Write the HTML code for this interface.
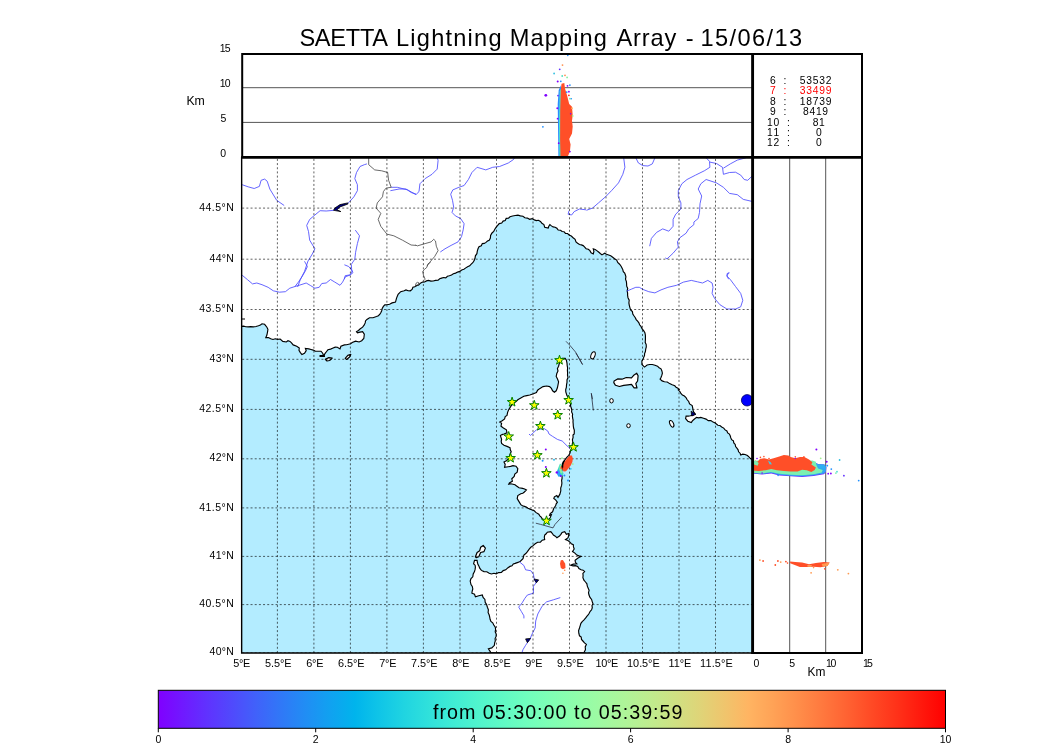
<!DOCTYPE html>
<html><head><meta charset="utf-8"><title>SAETTA Lightning Mapping Array</title>
<style>html,body{margin:0;padding:0;background:#fff;}svg{display:block;will-change:transform;}text{font-family:"Liberation Sans",sans-serif;}</style></head><body>
<svg width="1050" height="750" viewBox="0 0 1050 750">
<defs><clipPath id="mc"><rect x="241.2" y="157.4" width="511.4" height="495.5"/></clipPath>
<clipPath id="tc"><rect x="241" y="53" width="512" height="105"/></clipPath>
<clipPath id="rc"><rect x="752" y="157" width="111" height="497"/></clipPath>
<linearGradient id="rb" x1="0" x2="1" y1="0" y2="0"><stop offset="0.000" stop-color="#8000ff"/><stop offset="0.031" stop-color="#7019ff"/><stop offset="0.062" stop-color="#6032fe"/><stop offset="0.094" stop-color="#504afc"/><stop offset="0.125" stop-color="#4062fa"/><stop offset="0.156" stop-color="#3078f7"/><stop offset="0.188" stop-color="#208ef4"/><stop offset="0.219" stop-color="#10a2f0"/><stop offset="0.250" stop-color="#00b4ec"/><stop offset="0.281" stop-color="#10c5e7"/><stop offset="0.312" stop-color="#20d4e1"/><stop offset="0.344" stop-color="#30e1db"/><stop offset="0.375" stop-color="#40ecd4"/><stop offset="0.406" stop-color="#50f4cd"/><stop offset="0.438" stop-color="#60fac5"/><stop offset="0.469" stop-color="#70febd"/><stop offset="0.500" stop-color="#80ffb4"/><stop offset="0.531" stop-color="#8ffeab"/><stop offset="0.562" stop-color="#9ffaa2"/><stop offset="0.594" stop-color="#aff498"/><stop offset="0.625" stop-color="#bfec8e"/><stop offset="0.656" stop-color="#cfe183"/><stop offset="0.688" stop-color="#dfd478"/><stop offset="0.719" stop-color="#efc56d"/><stop offset="0.750" stop-color="#ffb462"/><stop offset="0.781" stop-color="#ffa256"/><stop offset="0.812" stop-color="#ff8e4a"/><stop offset="0.844" stop-color="#ff783e"/><stop offset="0.875" stop-color="#ff6232"/><stop offset="0.906" stop-color="#ff4a25"/><stop offset="0.938" stop-color="#ff3219"/><stop offset="0.969" stop-color="#ff190d"/><stop offset="1.000" stop-color="#ff0000"/></linearGradient></defs>
<rect width="1050" height="750" fill="#fff"/>
<g clip-path="url(#mc)">
<rect x="241.2" y="157.4" width="511.4" height="495.5" fill="#b3ecff"/>
<g fill="#fff" stroke="#000" stroke-width="1.15" stroke-linejoin="miter">
<path d="M241.2 326.4 L243.5 326.1 L245.8 326.8 L248.1 326.9 L250.7 326.7 L253.3 326.9 L256.0 326.5 L258.5 325.8 L260.4 325.0 L262.0 323.8 L264.6 324.3 L266.9 327.2 L267.9 329.3 L267.6 331.6 L266.9 335.0 L265.8 337.6 L268.4 337.5 L270.7 338.8 L273.0 339.5 L275.3 338.8 L277.6 339.4 L280.2 339.0 L282.8 341.4 L286.3 342.0 L288.0 340.7 L290.0 341.4 L291.5 342.8 L293.2 344.9 L296.7 346.3 L299.3 348.0 L299.0 350.3 L300.2 352.4 L301.9 354.6 L304.5 353.2 L306.2 350.6 L305.4 348.4 L308.8 348.9 L311.0 349.5 L313.2 350.1 L315.2 351.1 L317.5 351.2 L321.0 351.2 L322.7 353.2 L323.6 355.8 L325.3 353.2 L326.6 351.5 L327.9 349.8 L330.6 349.1 L333.1 348.0 L335.2 347.1 L337.4 347.2 L340.0 348.9 L340.9 346.3 L344.4 344.9 L346.6 344.8 L348.7 344.2 L350.7 343.8 L352.2 342.5 L355.6 341.1 L359.1 342.0 L361.7 340.7 L363.8 338.5 L364.1 336.3 L364.3 334.2 L362.6 331.6 L360.0 332.1 L357.4 332.8 L356.5 331.6 L358.5 330.5 L360.0 329.0 L362.6 327.2 L364.1 325.2 L365.2 322.9 L365.5 320.9 L366.9 319.4 L369.5 317.7 L373.0 317.7 L376.5 316.5 L378.4 315.7 L379.9 314.2 L380.9 312.5 L381.7 310.7 L382.2 308.5 L383.4 306.4 L384.8 304.9 L386.9 304.7 L389.6 304.3 L392.1 302.9 L395.5 302.1 L396.4 298.6 L397.2 296.4 L398.1 294.3 L400.7 291.7 L404.2 290.8 L406.0 289.9 L408.1 290.7 L410.3 290.8 L412.1 289.4 L412.9 287.3 L414.8 286.8 L416.4 285.6 L418.7 285.0 L420.4 283.2 L422.5 282.1 L424.6 282.0 L426.5 280.9 L428.5 280.4 L430.9 281.1 L433.2 281.0 L435.5 280.4 L438.1 280.1 L439.7 278.8 L441.6 278.1 L443.6 277.5 L445.8 277.8 L447.4 276.3 L449.4 275.7 L451.5 275.0 L453.4 273.7 L455.6 273.1 L457.6 272.1 L459.8 271.4 L461.7 270.0 L463.9 269.2 L465.8 267.9 L467.6 266.7 L469.7 265.8 L471.2 264.2 L472.8 262.7 L474.2 260.6 L475.0 258.3 L475.4 255.8 L476.9 253.7 L477.3 251.2 L478.0 248.8 L479.0 246.8 L481.3 245.7 L482.3 243.6 L484.3 243.4 L486.0 242.4 L487.5 241.1 L489.2 240.2 L490.4 238.0 L490.6 235.4 L491.8 233.2 L493.7 231.5 L494.8 229.3 L496.2 227.2 L497.7 225.4 L499.2 223.6 L501.7 223.0 L503.1 221.1 L505.2 220.6 L506.2 218.4 L508.5 218.2 L510.0 216.8 L512.6 216.0 L515.2 215.5 L517.9 215.2 L520.4 215.9 L522.9 216.3 L524.9 217.8 L527.4 218.1 L529.6 219.3 L532.2 218.6 L534.3 219.9 L536.3 220.6 L538.5 220.3 L540.4 221.4 L541.9 223.2 L543.9 224.6 L544.7 227.2 L548.2 228.0 L548.8 226.2 L549.9 224.6 L551.4 225.9 L553.1 226.9 L555.1 227.2 L556.9 228.3 L558.2 230.0 L560.5 230.2 L562.1 231.5 L564.1 231.8 L565.5 233.4 L567.6 233.5 L569.0 235.0 L571.3 236.0 L573.1 237.7 L575.1 239.3 L576.0 241.9 L577.6 243.3 L579.5 244.5 L581.4 244.9 L583.2 245.6 L584.7 247.1 L586.1 248.7 L588.3 249.2 L589.9 250.6 L591.1 252.8 L593.3 254.0 L593.9 251.4 L593.3 248.8 L595.2 249.5 L596.8 250.6 L598.6 252.0 L600.3 253.5 L602.0 254.9 L604.6 253.2 L606.5 254.2 L608.6 255.0 L610.7 255.8 L612.7 257.3 L614.6 258.8 L616.7 260.1 L617.7 262.5 L619.6 264.2 L621.1 266.2 L622.0 267.9 L622.8 269.6 L623.3 271.6 L624.7 273.1 L625.4 275.0 L625.9 276.9 L625.5 279.3 L626.4 281.6 L626.6 283.9 L626.7 286.2 L627.7 288.4 L627.2 290.8 L627.6 293.1 L627.6 295.4 L628.0 297.7 L629.2 300.2 L628.9 302.9 L629.3 305.3 L629.9 307.6 L630.6 309.9 L632.4 311.6 L632.8 314.0 L634.1 316.0 L635.3 317.7 L636.2 319.6 L637.6 321.2 L638.9 322.8 L639.6 324.8 L641.0 326.4 L642.0 328.7 L643.6 330.7 L644.9 332.8 L645.4 335.2 L645.4 337.6 L645.4 340.0 L645.2 342.3 L646.2 344.6 L646.3 346.9 L645.7 349.2 L645.4 351.5 L644.6 353.5 L644.5 355.6 L643.6 357.6 L642.9 359.4 L641.9 361.0 L641.9 364.5 L644.5 367.1 L647.1 365.0 L649.7 364.5 L652.3 364.5 L655.0 365.2 L657.5 366.2 L659.1 367.7 L661.0 368.8 L661.9 370.9 L662.4 373.2 L661.8 375.4 L661.0 377.5 L660.1 379.2 L662.1 380.9 L664.4 381.8 L667.3 382.0 L669.6 383.6 L672.2 384.8 L674.8 385.8 L676.1 387.4 L677.9 388.2 L679.2 389.6 L678.3 390.0 L679.9 391.5 L680.9 393.5 L682.4 395.1 L684.4 396.1 L686.0 397.6 L687.0 399.5 L688.7 401.5 L689.6 403.9 L692.2 405.6 L692.7 407.8 L693.0 409.9 L693.6 411.8 L694.8 413.4 L692.9 415.1 L690.4 415.7 L688.3 416.1 L686.1 416.0 L685.6 418.6 L687.8 421.2 L691.3 422.6 L692.4 420.9 L693.9 419.5 L696.5 417.4 L698.7 417.9 L700.8 417.4 L703.5 418.2 L706.1 419.1 L708.2 420.6 L710.9 420.6 L713.0 422.1 L714.8 422.7 L716.4 424.0 L717.9 425.2 L719.9 425.5 L721.7 426.9 L723.7 428.1 L725.1 429.9 L726.9 431.0 L727.7 432.9 L729.4 434.1 L730.3 436.0 L730.8 437.9 L731.6 439.6 L733.4 440.9 L733.8 442.9 L735.2 444.4 L735.6 446.6 L736.9 448.2 L738.1 449.8 L738.6 451.8 L740.1 453.2 L740.7 455.0 L742.8 454.2 L745.1 454.5 L747.4 455.6 L749.4 457.3 L750.7 458.8 L752.6 459.7 L752.6 157.4 L241.2 157.4Z"/>
<path d="M565.2 358.4 L566.4 360.2 L567.0 363.2 L567.2 365.6 L567.6 368.0 L567.4 370.4 L567.6 372.8 L567.5 375.2 L568.0 377.6 L567.0 379.9 L567.0 382.4 L566.5 384.8 L566.4 387.2 L565.7 389.5 L565.8 392.0 L567.0 395.6 L568.3 397.2 L568.8 399.2 L569.7 401.6 L570.6 404.0 L570.6 406.1 L571.3 408.0 L571.8 410.0 L571.6 412.0 L572.6 414.0 L572.4 416.0 L572.6 418.0 L573.1 420.0 L573.0 422.0 L573.2 424.0 L573.3 426.0 L573.6 428.0 L574.3 430.0 L574.3 432.0 L574.2 434.0 L573.0 435.0 L573.1 437.4 L572.4 439.8 L572.8 442.2 L572.2 444.2 L572.5 446.3 L571.8 448.2 L570.6 450.5 L570.0 453.0 L568.8 455.3 L567.0 457.2 L565.4 459.2 L564.0 461.4 L563.6 463.9 L562.4 466.2 L562.5 468.7 L561.6 471.0 L561.4 473.4 L562.0 475.8 L562.1 478.2 L561.6 480.6 L561.9 483.0 L561.6 485.4 L560.7 488.0 L560.8 490.8 L559.8 494.4 L558.0 497.4 L556.8 495.6 L554.4 496.8 L553.8 498.6 L555.6 499.8 L557.4 502.2 L556.2 503.8 L555.6 505.8 L553.8 508.2 L552.6 511.8 L550.2 513.6 L549.6 515.4 L551.4 514.8 L550.2 517.8 L548.4 519.6 L546.6 520.8 L544.2 520.0 L542.4 519.0 L541.2 517.2 L539.8 515.8 L538.8 514.2 L535.8 512.4 L534.3 510.8 L532.2 510.0 L530.1 509.1 L528.0 508.2 L526.3 507.1 L524.4 506.4 L522.5 505.8 L520.8 504.6 L519.0 501.6 L517.2 498.6 L517.8 495.6 L520.8 493.8 L522.8 493.3 L524.4 492.0 L526.4 490.0 L524.6 489.0 L522.6 488.4 L519.0 487.8 L516.6 486.0 L515.0 484.7 L513.0 484.2 L510.9 483.8 L508.8 484.2 L509.4 483.0 L512.4 481.2 L511.8 478.8 L514.2 476.4 L514.8 474.0 L517.2 472.2 L517.8 468.6 L516.0 466.2 L513.0 465.6 L510.6 466.4 L508.2 466.8 L504.6 467.4 L505.2 464.4 L504.0 462.0 L506.4 460.8 L508.8 458.4 L509.5 456.2 L510.1 453.9 L511.2 451.8 L510.3 449.8 L510.0 447.6 L507.0 446.4 L504.0 445.2 L501.6 443.4 L501.2 441.3 L501.6 439.2 L500.4 435.6 L502.1 434.6 L504.0 434.0 L507.0 432.8 L506.4 429.8 L503.4 428.0 L501.0 426.2 L501.6 423.2 L499.8 422.0 L502.2 420.8 L504.6 419.0 L505.2 416.6 L507.0 415.4 L507.6 412.4 L508.8 409.4 L510.0 407.6 L511.2 405.8 L513.6 403.4 L516.0 401.6 L517.8 399.8 L520.8 398.0 L523.8 396.2 L526.8 395.6 L529.8 395.0 L533.4 393.8 L536.4 392.6 L537.6 390.2 L540.0 388.4 L543.0 386.6 L546.6 386.0 L549.6 386.6 L551.4 388.4 L552.6 390.8 L554.4 392.2 L556.2 390.8 L557.4 387.8 L558.0 384.8 L558.6 381.8 L557.4 378.8 L556.2 376.4 L556.8 373.4 L558.0 371.0 L557.4 368.6 L558.6 366.2 L559.2 363.8 L560.4 360.8 L562.2 358.4 L565.2 358.4Z"/>
<path d="M491.0 652.9 L490.1 651.4 L488.4 648.8 L491.8 647.9 L494.4 645.3 L494.6 643.1 L495.3 641.0 L495.1 638.6 L496.1 636.4 L496.2 634.0 L495.2 631.8 L495.6 629.4 L495.3 627.1 L493.8 625.0 L492.7 622.8 L490.9 621.4 L490.1 619.3 L489.7 617.1 L489.2 615.0 L488.1 612.5 L488.4 609.8 L487.4 607.2 L486.6 604.6 L485.2 602.2 L484.9 599.4 L483.1 597.5 L482.3 595.0 L478.8 595.8 L475.4 596.7 L474.5 594.1 L471.9 593.2 L472.2 591.0 L472.8 588.9 L472.3 586.5 L471.0 584.6 L470.2 581.1 L471.0 578.6 L472.8 576.8 L473.2 574.0 L474.5 571.6 L475.1 569.4 L475.4 567.2 L475.1 565.2 L473.6 563.8 L474.5 560.3 L477.1 560.3 L477.4 562.5 L478.0 564.6 L479.0 566.3 L479.7 568.1 L481.4 570.4 L484.0 571.6 L486.8 571.8 L489.2 573.3 L491.5 574.0 L493.9 573.3 L496.2 573.8 L498.6 572.6 L501.4 572.4 L503.2 570.6 L505.7 569.8 L507.7 567.9 L510.0 566.4 L512.0 565.8 L513.3 564.0 L515.2 563.4 L517.9 562.4 L520.4 561.2 L523.0 558.6 L523.9 555.1 L525.8 553.5 L527.4 551.6 L529.0 549.3 L530.8 547.3 L533.1 545.6 L535.2 543.8 L537.6 542.3 L540.4 542.1 L542.2 540.2 L544.7 539.5 L544.3 537.3 L544.7 535.1 L546.2 533.8 L547.3 532.2 L550.8 531.7 L552.2 533.3 L553.4 535.1 L555.3 536.2 L556.9 537.7 L559.5 536.0 L560.9 534.4 L562.1 532.5 L564.7 531.7 L566.4 534.3 L569.0 533.4 L568.6 535.6 L568.1 537.7 L565.5 539.5 L567.9 540.5 L569.9 542.1 L571.3 543.7 L573.3 544.7 L573.5 546.9 L574.2 549.0 L572.5 551.6 L574.9 553.1 L576.8 555.1 L578.9 555.9 L581.1 556.5 L579.4 557.3 L577.7 558.2 L575.1 560.3 L575.4 562.3 L576.8 563.8 L573.3 564.1 L570.7 565.1 L573.0 565.9 L575.4 565.6 L577.7 566.4 L578.9 568.6 L581.1 569.8 L583.1 570.2 L584.6 571.6 L582.9 573.4 L583.1 575.5 L582.9 577.7 L583.9 580.1 L585.5 582.0 L586.9 583.8 L587.3 586.1 L588.1 588.1 L589.1 590.3 L588.5 592.7 L589.0 595.0 L590.0 597.4 L591.6 599.4 L592.2 601.6 L593.0 603.7 L592.0 605.6 L592.3 607.8 L591.6 609.8 L590.2 611.3 L589.2 613.2 L588.1 615.0 L586.6 616.6 L585.3 618.5 L583.8 620.2 L582.2 621.6 L580.9 623.3 L580.3 625.4 L579.5 628.0 L578.6 630.6 L578.8 633.2 L579.5 635.8 L581.2 637.1 L581.5 639.4 L582.9 641.0 L584.5 642.9 L586.4 644.4 L585.2 646.9 L585.5 649.6 L583.8 652.9Z"/>
</g>
<path d="M614.1 381.0 L617.6 378.9 L622.0 379.2 L626.3 377.5 L631.5 377.9 L634.1 374.9 L636.7 373.2 L638.1 375.8 L637.6 381.0 L635.8 383.6 L637.0 387.9 L634.1 387.9 L631.5 384.4 L628.0 384.8 L623.7 385.3 L619.4 386.5 L615.5 385.3 L613.8 382.7Z" fill="#fff" stroke="#000" stroke-width="1.2" stroke-linejoin="round"/>
<path d="M475.4 556.8 L477.1 552.5 L479.7 550.7 L480.6 547.3 L483.2 545.5 L485.4 548.1 L484.0 551.6 L480.6 552.5 L478.8 556.8 L476.2 557.7Z" fill="#fff" stroke="#000" stroke-width="1.2" stroke-linejoin="round"/>
<path d="M325.3 359.3 L328.8 357.6 L332.2 358.1 L329.6 360.5 L327.0 361.0Z" fill="#fff" stroke="#000" stroke-width="1.2" stroke-linejoin="round"/>
<path d="M345.2 358.4 L347.8 355.3 L350.8 354.4 L349.6 357.0 L346.6 359.5Z" fill="#fff" stroke="#000" stroke-width="1.2" stroke-linejoin="round"/>
<path d="M320.1 355.5 L324.4 355.5 L324.4 356.4 L320.1 356.4Z" fill="#fff" stroke="#000" stroke-width="1.2" stroke-linejoin="round"/>
<ellipse cx="593.0" cy="355.3" rx="2.0" ry="3.7" transform="rotate(20 593.0 355.3)" fill="#fff" stroke="#000" stroke-width="1"/>
<ellipse cx="611.5" cy="400.8" rx="1.8" ry="2.2" transform="rotate(0 611.5 400.8)" fill="#fff" stroke="#000" stroke-width="1"/>
<ellipse cx="628.5" cy="425.7" rx="1.8" ry="2.0" transform="rotate(0 628.5 425.7)" fill="#fff" stroke="#000" stroke-width="1"/>
<ellipse cx="671.7" cy="423.8" rx="1.8" ry="3.6" transform="rotate(-25 671.7 423.8)" fill="#fff" stroke="#000" stroke-width="1"/>
<path d="M241 319 L245 319" stroke="#000" stroke-width="1.2"/>
<g fill="none" stroke="#4a4aff" stroke-width="0.85" stroke-linejoin="round">
<path d="M242.1 184.7 L248.1 186.8 L254.2 188.5 L259.4 186.4 L261.1 180.3 L264.6 179.1 L267.2 181.2 L269.8 189.0 L276.7 200.3 L284.2 205.5"/>
<path d="M366.9 163.9 L364.3 164.7 L360.0 166.5 L356.5 172.5 L354.8 178.6 L357.4 184.7 L357.4 190.7 L353.9 196.8 L349.6 201.7 L347.8 203.4"/>
<path d="M334.0 210.3 L326.2 211.0 L320.1 210.7 L314.9 215.0 L309.7 219.4 L306.7 225.4 L308.5 231.5 L309.7 240.2 L314.9 248.8 L312.3 254.0 L308.0 261.0 L304.5 271.4 L300.5 279.2 L297.6 287.0"/>
<path d="M355.3 230.1 L359.5 235.8 L357.4 243.6 L355.6 252.3 L354.8 259.2 L351.3 264.4 L351.8 271.4 L350.4 274.8 L345.2 275.7 L344.4 279.2"/>
<path d="M391.2 187.3 L397.3 187.3 L407.7 189.9 L416.0 194.7"/>
<path d="M390.4 190.7 L399.1 189.0 L406.0 189.0 L411.2 192.5 L416.4 194.2 L419.0 191.6 L419.9 183.8 L425.1 178.6 L432.0 174.3 L437.2 169.1 L438.1 160.4 L437.2 157.8"/>
<path d="M514.4 157.8 L513.5 159.5 L508.3 163.0 L499.6 166.5 L492.7 167.3 L485.8 169.9 L477.1 167.3 L471.9 172.5 L468.4 179.5 L464.1 185.5 L458.9 187.3 L452.8 189.9 L450.7 194.2 L452.5 200.3 L453.7 207.2 L452.0 212.4 L455.4 215.9 L460.6 218.5 L464.1 223.7 L463.2 229.8 L461.5 236.7 L458.0 241.9 L451.1 245.4 L445.0 248.8 L440.3 252.0"/>
<path d="M586.0 209.8 L579.4 209.0 L574.2 211.6 L571.6 215.0 L568.1 214.2 L569.0 210.7"/>
<path d="M586.4 210.3 L592.5 208.1 L598.5 202.9 L605.5 196.8 L611.5 190.7 L618.5 182.9 L622.8 174.3 L624.9 167.3 L623.7 157.8"/>
<path d="M635.8 157.8 L638.4 163.0 L642.8 165.6 L648.0 166.0 L652.3 163.9 L654.9 157.8"/>
<path d="M706.1 157.8 L709.5 161.3 L709.9 167.3 L704.3 170.8 L695.6 175.1 L687.0 179.5 L681.8 183.8 L678.3 190.7 L678.3 196.8 L680.9 202.9 L680.9 209.0 L675.7 214.2 L673.1 219.4 L673.1 226.3 L668.8 231.2 L662.7 228.9 L656.6 232.4 L651.4 238.4 L649.7 246.2"/>
<path d="M752.5 201.5 L743.3 199.4 L737.3 194.7 L729.5 193.4 L723.4 187.3 L716.5 182.9 L706.1 179.5 L700.8 183.8 L698.2 189.0 L701.7 196.0 L700.0 203.8 L699.5 212.4 L698.2 218.5 L693.9 222.0 L693.9 224.6 L688.7 228.9 L686.1 233.2 L680.0 237.6 L677.4 241.9 L678.3 247.1 L673.1 253.2 L667.0 258.9 L665.3 257.9"/>
<path d="M709.9 162.1 L716.5 163.5 L722.5 167.3 L723.4 174.3 L729.5 172.5 L735.5 172.2 L740.7 175.1 L744.2 179.5 L747.7 180.3 L752.5 175.7"/>
<path d="M723.4 168.2 L730.3 163.9 L737.3 160.1 L745.9 157.8"/>
<path d="M728.6 279.2 L726.9 275.7 L727.2 273.5 L729.5 272.8"/>
<path d="M242.1 275.2 L247.3 279.5 L252.5 283.9 L256.8 283.0 L262.0 284.7 L268.1 287.3 L273.3 290.8 L279.4 292.2 L285.4 291.7 L289.8 288.2 L295.0 286.5 L298.4 282.1 L301.9 276.9 L305.4 270.9 L307.4 266.5 L304.5 261.3"/>
<path d="M295.0 286.5 L301.0 284.7 L306.2 283.0 L310.6 285.6 L314.9 288.2 L319.2 287.3 L321.8 283.5 L326.2 283.0 L330.5 279.5 L334.8 282.1 L340.0 285.3 L342.6 282.1 L345.2 276.9 L350.4 274.9 L353.0 272.6 L351.8 270.0 L348.7 266.5 L344.4 264.8"/>
<path d="M626.6 291.2 L631.5 289.1 L635.8 287.3 L639.3 287.3 L642.8 289.4 L648.8 291.7 L654.9 292.9 L661.0 289.9 L667.9 287.3 L676.6 285.3 L683.5 282.1 L691.3 280.4 L697.4 281.8 L702.6 283.0 L707.8 280.4 L712.1 283.0 L713.0 287.3 L712.1 293.4 L714.7 298.6 L719.9 304.7 L726.9 309.0 L735.5 309.0 L740.7 306.8 L742.8 300.3 L740.7 293.4 L735.5 286.5 L730.3 279.5 L726.9 276.1 L728.6 272.6"/>
<path d="M529.0 434.0 L530.4 435.4 L533.4 432.8 L536.4 429.8 L540.0 429.2 L544.2 428.6 L547.8 431.0 L549.0 434.0 L552.6 436.4 L557.4 439.4 L562.2 441.0 L567.0 445.8 L570.0 448.4"/>
<path d="M519.6 562.0 L523.9 565.5 L525.6 569.8 L530.8 570.7 L533.4 574.2 L534.3 579.4 L536.1 582.8 L533.4 586.3 L533.4 593.2 L527.4 595.0 L524.8 598.4 L522.2 602.8 L518.7 607.1 L521.3 611.4 L523.9 615.8 L523.9 618.4"/>
<path d="M560.3 597.6 L553.4 599.8 L546.5 601.9 L542.1 606.2 L537.8 614.0 L535.7 621.0 L535.2 627.9 L531.7 634.8 L530.0 639.2"/>
<path d="M530.0 639.2 L527.4 642.7 L525.6 645.3 L523.0 649.6 L521.8 653.1"/>
</g>
<g fill="none" stroke="#444" stroke-width="0.8" stroke-linejoin="round">
<path d="M368.7 157.8 L368.7 164.7 L374.7 169.9 L381.7 170.8 L387.7 172.5 L388.6 180.3 L391.2 187.3 L386.0 188.1 L383.4 191.6 L382.5 196.8 L377.3 202.9 L376.1 208.1 L380.8 213.3 L378.2 219.4 L380.8 226.3 L386.9 234.1 L393.8 235.8 L402.5 240.2 L411.1 245.0 L416.0 245.4"/>
<path d="M415.5 245.0 L417.3 245.9 L425.1 243.6 L431.1 241.9 L433.7 239.3 L435.5 241.0 L436.3 246.2 L438.1 250.6 L434.6 256.6 L429.4 262.7 L426.8 266.2"/>
<path d="M430.6 262.3 L428.0 263.9 L426.9 267.3 L424.3 269.5 L422.7 271.6 L423.5 275.3 L425.1 279.1 L424.3 280.4"/>
<path d="M415.5 285.5 L416.0 283.3 L417.6 282.3 L418.9 282.8 L417.9 284.9 L416.3 286.0 L415.5 285.5"/>
</g>
<g fill="none" stroke="#223" stroke-width="0.75">
<path d="M566.0 341.3 L570.0 345.5 L575.5 352.0 L579.2 358.5 L582.5 364.6"/>
<path d="M576.0 353.2 L579.5 359.3 L582.6 364.5"/>
<path d="M591.3 393.5 L592.5 399.2"/>
<path d="M591.3 393.1 L593.3 410.5"/>
<path d="M535.8 523.2 L540.6 524.4 L553.0 527.9 L555.0 524.4 L561.6 517.2"/>
</g>
<path d="M347.8 202.9 L340.0 204.6 L334.8 208.1 L333.6 210.3 L340.9 211.6 L336.9 209.8 L340.0 206.9 L347.8 204.1Z" fill="#000080" stroke="#000" stroke-width="0.8"/>
<path d="M534.0 579.0 L538.7 579.9 L536.4 582.8Z" fill="#000080" stroke="#000" stroke-width="0.8"/>
<path d="M525.6 638.9 L530.5 638.4 L527.4 642.7Z" fill="#000080" stroke="#000" stroke-width="0.8"/>
<path d="M691.1 411.2 L696.0 414.3 L691.8 416.0Z" fill="#000080" stroke="#000" stroke-width="0.8"/>
<circle cx="747.1" cy="400.3" r="5.7" fill="#0000ff" stroke="#000060" stroke-width="0.8"/>
<g stroke="#000" stroke-opacity="0.62" stroke-width="1" stroke-dasharray="2 2.17" fill="none">
<path d="M277.4 158.9 V652.9"/>
<path d="M313.9 158.9 V652.9"/>
<path d="M350.4 158.9 V652.9"/>
<path d="M386.9 158.9 V652.9"/>
<path d="M423.4 158.9 V652.9"/>
<path d="M460.0 158.9 V652.9"/>
<path d="M496.5 158.9 V652.9"/>
<path d="M533.0 158.9 V652.9"/>
<path d="M569.5 158.9 V652.9"/>
<path d="M606.0 158.9 V652.9"/>
<path d="M642.5 158.9 V652.9"/>
<path d="M679.0 158.9 V652.9"/>
<path d="M715.5 158.9 V652.9"/>
<path d="M242.2 652.9 H752.6"/>
<path d="M242.2 604.6 H752.6"/>
<path d="M242.2 556.4 H752.6"/>
<path d="M242.2 507.9 H752.6"/>
<path d="M242.2 458.8 H752.6"/>
<path d="M242.2 409.4 H752.6"/>
<path d="M242.2 359.3 H752.6"/>
<path d="M242.2 309.5 H752.6"/>
<path d="M242.2 259.2 H752.6"/>
<path d="M242.2 208.1 H752.6"/>
</g>
<path d="M560.0 463.6 L562.0 465.2 L561.6 470.0 L563.6 473.2 L562.0 476.4 L558.4 476.4 L556.4 472.4 L558.0 468.4Z" fill="#40e0c0"/>
<path d="M558.0 470.0 L559.6 468.4 L560.4 473.2 L562.0 476.0 L558.4 476.4 L556.8 473.2Z" fill="#30a0ff"/>
<path d="M560.0 464.4 L561.8 465.6 L561.4 470.0 L562.8 472.8 L560.8 473.6 L559.2 470.0Z" fill="#8ef0a0"/>
<path d="M570.0 455.6 L572.0 455.6 L572.8 458.4 L572.4 462.0 L570.8 465.2 L568.4 468.4 L566.0 471.2 L563.6 471.6 L562.4 469.2 L562.8 465.2 L564.4 462.0 L566.4 459.2 L568.4 456.8Z" fill="#ff4f28"/>
<path d="M560.8 466.4 L562.4 465.2 L562.0 469.2 L560.4 468.8Z" fill="#ff4f28"/>
<path d="M564.0 460.8 L562.6 463.6 L562.4 467.6" fill="none" stroke="#000" stroke-width="1.6"/>
<circle cx="556.8" cy="472.4" r="1.2" fill="#8000ff"/>
<circle cx="560.8" cy="476.0" r="1.0" fill="#8000ff"/>
<circle cx="564.4" cy="475.6" r="1.0" fill="#2090ff"/>
<circle cx="568.0" cy="480.4" r="1.0" fill="#2090ff"/>
<circle cx="570.8" cy="468.8" r="0.9" fill="#30c0f0"/>
<circle cx="572.8" cy="464.0" r="1.0" fill="#a0f0a0"/>
<circle cx="554.0" cy="459.8" r="1.0" fill="#30c0f0"/>
<circle cx="542.6" cy="460.8" r="1.0" fill="#2090ff"/>
<circle cx="545.8" cy="449.4" r="1.0" fill="#8000ff"/>
<circle cx="545.8" cy="467.0" r="1.0" fill="#8000ff"/>
<circle cx="562.0" cy="458.2" r="1.0" fill="#a0f0a0"/>
<path d="M560.8 560.3 L562.9 559.9 L565.2 563.8 L565.5 568.1 L562.9 569.3 L560.8 568.1 L560.0 563.8Z" fill="#ff4f28"/>
<circle cx="564.7" cy="570.2" r="0.8" fill="#ff8040"/>
<circle cx="562.9" cy="573.3" r="0.8" fill="#ff9a50"/>
<path d="M559.5 355.2 L560.6 358.6 L564.3 358.7 L561.4 360.8 L562.4 364.2 L559.5 362.1 L556.6 364.2 L557.6 360.8 L554.7 358.7 L558.4 358.6Z" fill="#ffff00" stroke="#008000" stroke-width="1.0" stroke-linejoin="round"/>
<path d="M512.1 397.1 L513.2 400.5 L516.9 400.6 L514.0 402.7 L515.0 406.1 L512.1 404.1 L509.2 406.1 L510.2 402.7 L507.3 400.6 L511.0 400.5Z" fill="#ffff00" stroke="#008000" stroke-width="1.0" stroke-linejoin="round"/>
<path d="M534.3 400.3 L535.4 403.7 L539.1 403.8 L536.2 405.9 L537.2 409.3 L534.3 407.2 L531.4 409.3 L532.4 405.9 L529.5 403.8 L533.2 403.7Z" fill="#ffff00" stroke="#008000" stroke-width="1.0" stroke-linejoin="round"/>
<path d="M568.6 395.1 L569.7 398.5 L573.4 398.6 L570.5 400.7 L571.5 404.1 L568.6 402.1 L565.7 404.1 L566.7 400.7 L563.8 398.6 L567.5 398.5Z" fill="#ffff00" stroke="#008000" stroke-width="1.0" stroke-linejoin="round"/>
<path d="M557.7 410.1 L558.8 413.5 L562.5 413.6 L559.6 415.7 L560.6 419.1 L557.7 417.1 L554.8 419.1 L555.8 415.7 L552.9 413.6 L556.6 413.5Z" fill="#ffff00" stroke="#008000" stroke-width="1.0" stroke-linejoin="round"/>
<path d="M540.4 421.1 L541.5 424.5 L545.2 424.6 L542.3 426.7 L543.3 430.1 L540.4 428.1 L537.5 430.1 L538.5 426.7 L535.6 424.6 L539.3 424.5Z" fill="#ffff00" stroke="#008000" stroke-width="1.0" stroke-linejoin="round"/>
<path d="M508.7 431.5 L509.8 434.9 L513.5 435.0 L510.6 437.1 L511.6 440.5 L508.7 438.4 L505.8 440.5 L506.8 437.1 L503.9 435.0 L507.6 434.9Z" fill="#ffff00" stroke="#008000" stroke-width="1.0" stroke-linejoin="round"/>
<path d="M573.5 442.2 L574.6 445.6 L578.3 445.7 L575.4 447.8 L576.4 451.2 L573.5 449.1 L570.6 451.2 L571.6 447.8 L568.7 445.7 L572.4 445.6Z" fill="#ffff00" stroke="#008000" stroke-width="1.0" stroke-linejoin="round"/>
<path d="M537.4 450.2 L538.5 453.6 L542.2 453.7 L539.3 455.8 L540.3 459.2 L537.4 457.1 L534.5 459.2 L535.5 455.8 L532.6 453.7 L536.3 453.6Z" fill="#ffff00" stroke="#008000" stroke-width="1.0" stroke-linejoin="round"/>
<path d="M510.6 453.1 L511.7 456.5 L515.4 456.6 L512.5 458.7 L513.5 462.1 L510.6 460.1 L507.7 462.1 L508.7 458.7 L505.8 456.6 L509.5 456.5Z" fill="#ffff00" stroke="#008000" stroke-width="1.0" stroke-linejoin="round"/>
<path d="M546.4 468.2 L547.5 471.6 L551.2 471.7 L548.3 473.8 L549.3 477.2 L546.4 475.1 L543.5 477.2 L544.5 473.8 L541.6 471.7 L545.3 471.6Z" fill="#ffff00" stroke="#008000" stroke-width="1.0" stroke-linejoin="round"/>
<path d="M546.5 515.8 L547.6 519.2 L551.3 519.3 L548.4 521.4 L549.4 524.8 L546.5 522.8 L543.6 524.8 L544.6 521.4 L541.7 519.3 L545.4 519.2Z" fill="#ffff00" stroke="#008000" stroke-width="1.0" stroke-linejoin="round"/>
</g>
<g clip-path="url(#tc)">
<path d="M242 87.7 H752 M242 122.4 H752" stroke="#555" stroke-width="1" fill="none"/>
<path d="M558.7 90.0 L561.1 85.1 L561.5 156.5 L558.4 156.5 L558.0 125.0 L557.7 104.0Z" fill="#2a8cff"/>
<path d="M559.7 91.4 L561.5 87.2 L561.9 156.5 L559.4 156.5 L559.0 125.0Z" fill="#50e8c8"/>
<path d="M561.5 83.7 L564.3 83.0 L565.0 88.6 L567.1 95.6 L569.2 104.0 L572.0 106.8 L572.7 115.2 L572.0 120.8 L572.7 126.4 L572.0 133.4 L569.2 139.0 L570.6 144.6 L569.9 151.6 L567.8 156.5 L560.5 156.5 L560.1 139.0 L560.2 111.0 L560.8 90.0Z" fill="#ff4f28"/>
<circle cx="567.8" cy="55.4" r="0.8" fill="#2090ff"/>
<circle cx="562.5" cy="65.1" r="0.9" fill="#ff9050"/>
<circle cx="559.7" cy="69.3" r="0.9" fill="#6030ff"/>
<circle cx="554.1" cy="73.5" r="0.9" fill="#30c0e0"/>
<circle cx="562.2" cy="76.0" r="0.9" fill="#50e0c0"/>
<circle cx="565.0" cy="75.3" r="0.9" fill="#ff9050"/>
<circle cx="567.1" cy="77.4" r="0.9" fill="#80f0a0"/>
<circle cx="557.7" cy="81.6" r="1.0" fill="#8000ff"/>
<circle cx="560.8" cy="81.3" r="0.9" fill="#2090ff"/>
<circle cx="569.9" cy="85.1" r="0.9" fill="#2090ff"/>
<circle cx="567.5" cy="85.8" r="0.9" fill="#8000ff"/>
<circle cx="545.8" cy="95.3" r="1.4" fill="#8000ff"/>
<circle cx="566.7" cy="92.1" r="0.9" fill="#2090ff"/>
<circle cx="568.9" cy="91.7" r="0.9" fill="#8000ff"/>
<circle cx="568.9" cy="95.3" r="0.9" fill="#ff3020"/>
<circle cx="569.9" cy="98.7" r="0.9" fill="#80f0a0"/>
<circle cx="571.3" cy="98.7" r="0.8" fill="#2090ff"/>
<circle cx="572.7" cy="115.9" r="0.9" fill="#a0f090"/>
<circle cx="570.6" cy="113.8" r="0.8" fill="#8000ff"/>
<circle cx="542.9" cy="126.8" r="0.9" fill="#2090ff"/>
<circle cx="569.9" cy="151.6" r="0.9" fill="#8000ff"/>
<circle cx="557.3" cy="108.2" r="1.0" fill="#8000ff"/>
<circle cx="557.6" cy="118.7" r="0.9" fill="#8000ff"/>
<circle cx="558.7" cy="143.2" r="0.9" fill="#8000ff"/>
<circle cx="558.0" cy="95.6" r="0.9" fill="#6030ff"/>
<circle cx="572.0" cy="108.2" r="0.9" fill="#ffb060"/>
</g>
<g clip-path="url(#rc)">
<path d="M789.7 158 V652 M825.7 158 V652" stroke="#555" stroke-width="1" fill="none"/>
<path d="M752.4 462.9 L752.4 473.4 L762.1 474.5 L771.3 473.4 L779.3 475.4 L790.7 476.3 L802.1 477.0 L813.6 475.9 L823.9 474.3 L825.9 472.2 L826.4 467.2 L824.5 464.5 L818.1 464.0 L813.6 461.7Z" fill="#6a30ff"/>
<path d="M752.4 462.9 L752.4 473.0 L762.1 474.1 L771.3 472.8 L779.3 474.7 L790.7 475.7 L802.1 476.2 L813.6 475.2 L823.9 473.6 L825.7 471.8 L826.1 467.4 L824.3 464.7 L818.1 464.2 L813.6 461.9Z" fill="#30a8f0"/>
<path d="M752.4 461.1 L752.4 472.7 L762.1 473.5 L770.7 472.0 L779.3 473.8 L790.7 474.7 L802.1 475.2 L813.6 474.2 L821.8 472.5 L822.7 469.9 L818.1 468.6 L816.4 465.1 L815.9 461.7 L812.4 460.6 L779.3 462.9 L758.7 460.6Z" fill="#7cf0b0"/>
<path d="M816.8 464.5 L824.3 464.5 L825.9 467.0 L823.9 468.6 L819.3 468.1Z" fill="#30b0f0"/>
<path d="M752.4 462.3 L755.3 460.6 L757.6 461.7 L759.9 458.9 L764.4 458.3 L769.0 459.4 L773.6 458.3 L779.3 456.6 L783.9 454.9 L788.4 455.4 L790.7 457.1 L795.3 458.3 L799.9 457.1 L804.4 457.1 L809.0 459.4 L812.4 462.3 L811.3 464.6 L815.9 467.4 L814.7 469.9 L811.3 472.0 L806.7 470.3 L802.1 469.7 L797.6 471.4 L790.7 471.4 L783.9 470.9 L777.0 470.3 L771.3 469.1 L765.6 470.3 L758.7 470.9 L752.4 470.6Z" fill="#ff4f28"/>
<path d="M752.4 461.1 L755.9 460.8 L758.7 462.9 L757.6 465.7 L754.1 464.6 L752.4 465.1Z" fill="#7cf0b0"/>
<path d="M767.9 460.6 L770.7 462.3 L771.9 464.6 L769.6 464.2Z" fill="#40c8e8"/>
<circle cx="816.4" cy="449.5" r="1.0" fill="#8000ff"/>
<circle cx="820.7" cy="458.3" r="0.9" fill="#a0f090"/>
<circle cx="826.7" cy="461.7" r="1.0" fill="#8000ff"/>
<circle cx="839.6" cy="460.0" r="0.9" fill="#30c0e0"/>
<circle cx="827.3" cy="465.7" r="0.9" fill="#2090ff"/>
<circle cx="831.3" cy="469.1" r="0.9" fill="#2090ff"/>
<circle cx="828.2" cy="473.7" r="0.9" fill="#8000ff"/>
<circle cx="830.9" cy="473.5" r="0.9" fill="#8000ff"/>
<circle cx="835.9" cy="473.1" r="0.9" fill="#80f0b0"/>
<circle cx="837.0" cy="471.7" r="0.9" fill="#50e0d0"/>
<circle cx="843.9" cy="475.7" r="0.9" fill="#6030ff"/>
<circle cx="858.7" cy="480.6" r="0.9" fill="#2090ff"/>
<circle cx="760.4" cy="457.4" r="0.8" fill="#ff4f28"/>
<circle cx="763.9" cy="456.6" r="0.8" fill="#ff4f28"/>
<circle cx="769.0" cy="458.6" r="0.8" fill="#ff4f28"/>
<circle cx="795.3" cy="456.7" r="0.8" fill="#ff4f28"/>
<circle cx="803.9" cy="456.7" r="0.8" fill="#ff4f28"/>
<circle cx="757.0" cy="458.5" r="0.8" fill="#8000ff"/>
<circle cx="795.3" cy="458.3" r="0.7" fill="#8000ff"/>
<circle cx="778.1" cy="475.4" r="0.8" fill="#2090ff"/>
<circle cx="762.1" cy="473.1" r="0.8" fill="#8000ff"/>
<path d="M790.1 561.6 L795.3 562.1 L802.1 562.4 L809.0 564.2 L815.9 563.1 L823.9 561.9 L829.6 562.5 L827.5 566.1 L820.4 567.3 L813.6 566.7 L806.7 566.9 L799.9 566.9 L794.1 564.7 L790.1 563.3Z" fill="#ff4f28"/>
<path d="M821.6 563.9 L829.6 562.5 L827.5 566.1 L822.7 566.5Z" fill="#ff9a50"/>
<path d="M807.3 565.0 L811.9 565.0 L811.3 566.9 L807.6 566.7Z" fill="#ff9a50"/>
<circle cx="759.9" cy="560.1" r="0.9" fill="#ff9a50"/>
<circle cx="763.1" cy="561.0" r="0.9" fill="#ff4f28"/>
<circle cx="777.9" cy="561.0" r="0.9" fill="#ff4f28"/>
<circle cx="780.7" cy="562.1" r="0.9" fill="#ff9a50"/>
<circle cx="775.3" cy="565.0" r="0.9" fill="#ff4f28"/>
<circle cx="785.9" cy="561.6" r="0.9" fill="#ff4f28"/>
<circle cx="787.5" cy="563.1" r="0.8" fill="#ff4f28"/>
<circle cx="811.1" cy="572.8" r="0.9" fill="#ff9a50"/>
<circle cx="824.8" cy="568.8" r="0.9" fill="#ff4f28"/>
<circle cx="837.8" cy="569.8" r="0.9" fill="#ff9a50"/>
<circle cx="848.4" cy="573.6" r="0.9" fill="#ff9a50"/>
<circle cx="813.6" cy="567.6" r="0.8" fill="#ff9a50"/>
</g>
<g fill="none" stroke="#000">
<path d="M242.2 158 V54 H862 V158" stroke-width="2"/>
<path d="M862 157 V652.9 H752.6" stroke-width="2"/>
<path d="M241.65 157 V653.05 H752.6" stroke-width="1.4"/>
<path d="M241.2 157.4 H863" stroke-width="2.9"/>
<path d="M752.6 53 V653.9" stroke-width="2.9"/>
</g>
<text x="299.4" y="46.3" font-size="23.6" text-anchor="start" textLength="88.6" lengthAdjust="spacing">SAETTA</text>
<text x="396.0" y="46.3" font-size="23.6" text-anchor="start" textLength="105.5" lengthAdjust="spacing">Lightning</text>
<text x="509.8" y="46.3" font-size="23.6" text-anchor="start" textLength="97.0" lengthAdjust="spacing">Mapping</text>
<text x="616.4" y="46.3" font-size="23.6" text-anchor="start" textLength="60.0" lengthAdjust="spacing">Array</text>
<text x="685.8" y="46.3" font-size="23.6" text-anchor="start">-</text>
<text x="700.6" y="46.3" font-size="23.6" text-anchor="start" textLength="101.5" lengthAdjust="spacing">15/06/13</text>
<text x="219.8" y="52.0" font-size="10.5" text-anchor="start" textLength="10.8" lengthAdjust="spacing">15</text>
<text x="219.8" y="86.8" font-size="10.5" text-anchor="start" textLength="10.8" lengthAdjust="spacing">10</text>
<text x="220.5" y="121.8" font-size="10.5" text-anchor="start">5</text>
<text x="220.3" y="156.7" font-size="10.5" text-anchor="start">0</text>
<text x="186.5" y="104.9" font-size="12.3" text-anchor="start" textLength="18.2" lengthAdjust="spacing">Km</text>
<text x="209.6" y="654.9" font-size="10.5" text-anchor="start" textLength="24.3" lengthAdjust="spacing">40°N</text>
<text x="199.2" y="607.2" font-size="10.5" text-anchor="start" textLength="34.7" lengthAdjust="spacing">40.5°N</text>
<text x="209.6" y="559.0" font-size="10.5" text-anchor="start" textLength="24.3" lengthAdjust="spacing">41°N</text>
<text x="199.2" y="510.5" font-size="10.5" text-anchor="start" textLength="34.7" lengthAdjust="spacing">41.5°N</text>
<text x="209.6" y="461.4" font-size="10.5" text-anchor="start" textLength="24.3" lengthAdjust="spacing">42°N</text>
<text x="199.2" y="412.0" font-size="10.5" text-anchor="start" textLength="34.7" lengthAdjust="spacing">42.5°N</text>
<text x="209.6" y="361.9" font-size="10.5" text-anchor="start" textLength="24.3" lengthAdjust="spacing">43°N</text>
<text x="199.2" y="312.1" font-size="10.5" text-anchor="start" textLength="34.7" lengthAdjust="spacing">43.5°N</text>
<text x="209.6" y="261.8" font-size="10.5" text-anchor="start" textLength="24.3" lengthAdjust="spacing">44°N</text>
<text x="199.2" y="210.7" font-size="10.5" text-anchor="start" textLength="34.7" lengthAdjust="spacing">44.5°N</text>
<text x="233.2" y="666.9" font-size="10.9" text-anchor="start" textLength="17.1" lengthAdjust="spacing">5°E</text>
<text x="265.0" y="666.9" font-size="10.9" text-anchor="start" textLength="26.6" lengthAdjust="spacing">5.5°E</text>
<text x="306.3" y="666.9" font-size="10.9" text-anchor="start" textLength="17.1" lengthAdjust="spacing">6°E</text>
<text x="338.0" y="666.9" font-size="10.9" text-anchor="start" textLength="26.6" lengthAdjust="spacing">6.5°E</text>
<text x="379.3" y="666.9" font-size="10.9" text-anchor="start" textLength="17.1" lengthAdjust="spacing">7°E</text>
<text x="411.0" y="666.9" font-size="10.9" text-anchor="start" textLength="26.6" lengthAdjust="spacing">7.5°E</text>
<text x="452.3" y="666.9" font-size="10.9" text-anchor="start" textLength="17.1" lengthAdjust="spacing">8°E</text>
<text x="484.1" y="666.9" font-size="10.9" text-anchor="start" textLength="26.6" lengthAdjust="spacing">8.5°E</text>
<text x="525.3" y="666.9" font-size="10.9" text-anchor="start" textLength="17.1" lengthAdjust="spacing">9°E</text>
<text x="557.1" y="666.9" font-size="10.9" text-anchor="start" textLength="26.6" lengthAdjust="spacing">9.5°E</text>
<text x="595.6" y="666.9" font-size="10.9" text-anchor="start" textLength="22.6" lengthAdjust="spacing">10°E</text>
<text x="627.1" y="666.9" font-size="10.9" text-anchor="start" textLength="32.6" lengthAdjust="spacing">10.5°E</text>
<text x="668.6" y="666.9" font-size="10.9" text-anchor="start" textLength="22.6" lengthAdjust="spacing">11°E</text>
<text x="700.1" y="666.9" font-size="10.9" text-anchor="start" textLength="32.6" lengthAdjust="spacing">11.5°E</text>
<text x="753.6" y="666.9" font-size="10.5" text-anchor="start">0</text>
<text x="789.3" y="666.9" font-size="10.5" text-anchor="start">5</text>
<text x="826.0" y="666.9" font-size="10.5" text-anchor="start" textLength="10.4" lengthAdjust="spacing">10</text>
<text x="863.1" y="666.9" font-size="10.5" text-anchor="start" textLength="9.8" lengthAdjust="spacing">15</text>
<text x="807.5" y="676.0" font-size="11.9" text-anchor="start" textLength="18.0" lengthAdjust="spacing">Km</text>
<text x="769.9" y="84.0" font-size="10.3" text-anchor="start">6</text>
<text x="783.6" y="84.0" font-size="10.3" text-anchor="start">:</text>
<text x="799.8" y="84.0" font-size="10.3" text-anchor="start" textLength="31.7" lengthAdjust="spacing">53532</text>
<text x="769.9" y="94.2" font-size="10.3" text-anchor="start" fill="#ff0000">7</text>
<text x="783.6" y="94.2" font-size="10.3" text-anchor="start" fill="#ff0000">:</text>
<text x="799.8" y="94.2" font-size="10.3" text-anchor="start" textLength="31.7" lengthAdjust="spacing" fill="#ff0000">33499</text>
<text x="769.9" y="105.0" font-size="10.3" text-anchor="start">8</text>
<text x="783.6" y="105.0" font-size="10.3" text-anchor="start">:</text>
<text x="799.8" y="105.0" font-size="10.3" text-anchor="start" textLength="31.7" lengthAdjust="spacing">18739</text>
<text x="769.9" y="114.9" font-size="10.3" text-anchor="start">9</text>
<text x="783.6" y="114.9" font-size="10.3" text-anchor="start">:</text>
<text x="802.9" y="114.9" font-size="10.3" text-anchor="start" textLength="25.2" lengthAdjust="spacing">8419</text>
<text x="766.9" y="126.0" font-size="10.3" text-anchor="start" textLength="12.4" lengthAdjust="spacing">10</text>
<text x="787.0" y="126.0" font-size="10.3" text-anchor="start">:</text>
<text x="812.7" y="126.0" font-size="10.3" text-anchor="start" textLength="12.1" lengthAdjust="spacing">81</text>
<text x="766.9" y="136.2" font-size="10.3" text-anchor="start" textLength="12.4" lengthAdjust="spacing">11</text>
<text x="787.0" y="136.2" font-size="10.3" text-anchor="start">:</text>
<text x="816.0" y="136.2" font-size="10.3" text-anchor="start">0</text>
<text x="766.9" y="146.2" font-size="10.3" text-anchor="start" textLength="12.4" lengthAdjust="spacing">12</text>
<text x="787.0" y="146.2" font-size="10.3" text-anchor="start">:</text>
<text x="816.0" y="146.2" font-size="10.3" text-anchor="start">0</text>
<rect x="158.3" y="690.3" width="787.2" height="38" fill="url(#rb)" stroke="#000" stroke-width="1"/>
<path d="M158.3 728.3 V732.3" stroke="#000" stroke-width="1"/>
<text x="158.3" y="743.3" font-size="10.5" text-anchor="middle">0</text>
<path d="M315.7 728.3 V732.3" stroke="#000" stroke-width="1"/>
<text x="315.7" y="743.3" font-size="10.5" text-anchor="middle">2</text>
<path d="M473.2 728.3 V732.3" stroke="#000" stroke-width="1"/>
<text x="473.2" y="743.3" font-size="10.5" text-anchor="middle">4</text>
<path d="M630.6 728.3 V732.3" stroke="#000" stroke-width="1"/>
<text x="630.6" y="743.3" font-size="10.5" text-anchor="middle">6</text>
<path d="M788.1 728.3 V732.3" stroke="#000" stroke-width="1"/>
<text x="788.1" y="743.3" font-size="10.5" text-anchor="middle">8</text>
<path d="M945.5 728.3 V732.3" stroke="#000" stroke-width="1"/>
<text x="945.5" y="743.3" font-size="10.5" text-anchor="middle">10</text>
<text x="433.0" y="718.9" font-size="19.7" text-anchor="start" textLength="249.5" lengthAdjust="spacing">from 05:30:00 to 05:39:59</text>
</svg></body></html>
